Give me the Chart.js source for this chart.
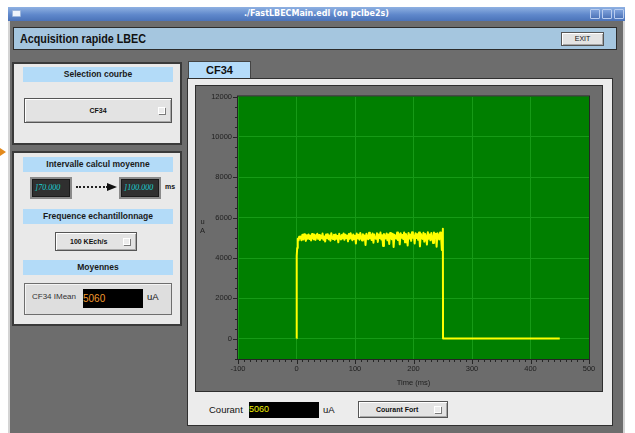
<!DOCTYPE html>
<html>
<head>
<meta charset="utf-8">
<title>FastLBECMain</title>
<script src="https://cdn.jsdelivr.net/npm/chart.js@4/dist/chart.umd.min.js"></script>
<style>
  body { margin: 0; width: 635px; height: 433px; background: #fff; position: relative; overflow: hidden;
         font-family: 'Liberation Sans', Arial, sans-serif; }
  .abs { position: absolute; box-sizing: border-box; }

  /* ── window chrome ── */
  .win { left: 8px; top: 7px; width: 617px; height: 426px; background: #6d6d6d;
         border-left: 2px solid #d4d4d4; border-right: 2px solid #d4d4d4; }
  .titlebar { left: 8px; top: 7px; width: 617px; height: 14px;
              background: linear-gradient(#8fb1e2, #5f88cb 55%, #4b73b9);
              color: #fff; font: bold 8px 'DejaVu Sans', sans-serif; text-align: center; line-height: 14px; }
  .tb-icon { top: 10px; left: 12px; width: 9px; height: 7px; background: #eef3fb; border: 1px solid #9db6dc; border-radius: 1px; }
  .tb-btn  { top: 9px; width: 10px; height: 10px; background: linear-gradient(#7fa2dc, #4d74b8); border: 1px solid #b9cdef; border-radius: 1px; }

  .header { left: 13px; top: 27px; width: 604px; height: 23px; background: #a5c6df; border: 1px solid #2c2c2c; }
  .header span { position: absolute; left: 6px; top: 4px; font: bold 12.5px 'Liberation Sans', sans-serif; color: #111;
                 transform: scaleX(0.86); transform-origin: left center; white-space: nowrap; }

  /* ── generic widgets ── */
  .panel { background: #e9e9e9; border: 2px solid #3a3a3a; }
  .lbl { left: 23px; width: 150px; height: 15px; background: #b3dbf8; text-align: center;
         font: bold 8.5px 'Liberation Sans', sans-serif; line-height: 15px; color: #1a1a1a; }
  .btn { background: #e3e3e3; border: 1px solid #555; box-shadow: inset 1px 1px 0 #fff, inset -1px -1px 0 #a8a8a8;
         text-align: center; font: bold 7px 'Liberation Sans', sans-serif; color: #111; }
  .btn i { position: absolute; right: 6px; top: 50%; margin-top: -4px; width: 7px; height: 7px;
           background: #ececec; border: 1px solid #fff; box-shadow: 1px 1px 0 #7a7a7a; box-sizing: border-box; }
  .entry { width: 42px; height: 22px; background: #2f2f2f; border: 2px solid #8a8a8a;
           box-shadow: inset 0 0 0 1px #1a1a1a; color: #19d3d3; font: italic 8px 'Liberation Serif', serif;
           line-height: 18px; padding-left: 3px; white-space: nowrap; }
  .entry b { font-weight: normal; color: #19d3d3; }
  .field { background: #000; font: 9px 'Liberation Sans', sans-serif; }

  .tab { left: 188px; top: 61px; width: 63px; height: 18px; background: #b5dcfa; border: 1px solid #444; border-bottom: none;
         text-align: center; font: bold 11px 'Liberation Sans', sans-serif; line-height: 17px; color: #111; }
  .bigpanel { left: 187px; top: 78px; width: 426px; height: 348px; background: #ececec; border: 1px solid #303030; }
  .frame { left: 196px; top: 86px; width: 406px; height: 305px; background: #6c6c6c; box-shadow: 0 0 0 1px #2e2e2e; }
  .frame canvas { display: block; }
  .txt { font: 9px 'Liberation Sans', sans-serif; color: #111; white-space: nowrap; }
</style>
</head>
<body>

<!-- window frame and title bar -->
<div class="abs win"></div>
<div class="abs titlebar">./FastLBECMain.edl (on pclbe2s)</div>
<div class="abs tb-icon"></div>
<div class="abs tb-btn" style="left:590px"></div>
<div class="abs tb-btn" style="left:602px"></div>
<div class="abs tb-btn" style="left:614px"></div>

<!-- small orange pointer at the left screen edge -->
<div class="abs" style="left:0;top:148px;width:0;height:0;border-top:4px solid transparent;border-bottom:4px solid transparent;border-left:6px solid #e38a1c"></div>

<div class="abs header"><span>Acquisition rapide LBEC</span></div>
<div class="abs btn" style="left:561px;top:32px;width:43px;height:14px;line-height:12px;font-weight:normal;font-size:7px">EXIT</div>

<!-- curve selection -->
<div class="abs panel" style="left:12px;top:62px;width:170px;height:83px"></div>
<div class="abs lbl" style="top:67px">Selection courbe</div>
<div class="abs btn" style="left:24px;top:98px;width:148px;height:25px;line-height:23px">CF34<i></i></div>

<!-- averaging interval / sampling / means -->
<div class="abs panel" style="left:12px;top:151px;width:170px;height:175px"></div>
<div class="abs lbl" style="top:157px">Intervalle calcul moyenne</div>
<div class="abs entry" style="left:30px;top:177px"><b>]</b>70.000</div>
<div class="abs" style="left:76px;top:186px;width:32px;height:0;border-top:2px dotted #222"></div>
<div class="abs" style="left:107px;top:183px;width:0;height:0;border-top:4px solid transparent;border-bottom:4px solid transparent;border-left:10px solid #111"></div>
<div class="abs entry" style="left:119px;top:177px"><b>]</b>100.000</div>
<div class="abs txt" style="left:165px;top:183px;font:bold 7px 'Liberation Sans',sans-serif">ms</div>

<div class="abs lbl" style="top:209px">Frequence echantillonnage</div>
<div class="abs btn" style="left:55px;top:232px;width:82px;height:19px;line-height:17px;text-align:left;padding-left:14px">100 KEch/s<i></i></div>

<div class="abs lbl" style="top:260px">Moyennes</div>
<div class="abs" style="left:24px;top:283px;width:148px;height:32px;background:#dedede;border:1px solid #6e6e6e;box-shadow:inset 1px 1px 0 #f4f4f4"></div>
<div class="abs txt" style="left:32px;top:292px;font-size:8px;color:#333">CF34 IMean</div>
<div class="abs field" style="left:83px;top:289px;width:60px;height:19px;color:#f29a2e;font-size:10px;line-height:19px">5060</div>
<div class="abs txt" style="left:147px;top:291px;font-size:9.5px">uA</div>

<!-- plot panel -->
<div class="abs tab">CF34</div>
<div class="abs bigpanel"></div>
<div class="abs frame"><canvas id="scopeChart" width="406" height="305"></canvas></div>
<div class="abs txt" style="left:200px;top:217px;font-size:7.5px;line-height:9px;color:#1e1e1e;text-align:center">u<br>A</div>

<div class="abs txt" style="left:209px;top:404px;font-size:9.5px">Courant</div>
<div class="abs field" style="left:249px;top:402px;width:70px;height:16px;color:#f0f000;line-height:15px">5060</div>
<div class="abs txt" style="left:323px;top:404px;font-size:9.5px">uA</div>
<div class="abs btn" style="left:358px;top:401px;width:90px;height:17px;line-height:15px;text-align:left;padding-left:17px">Courant Fort<i></i></div>

<script>
// ── DATA ───────────────────────────────────────────────
// Rising edge of the pulse (time in ms, current in uA)
const riseTime    = [0, 0, 0.4, 0.7, 1.2, 1.8, 2.5, 3.5, 4.5, 5.5];
const riseCurrent = [30, 1600, 1400, 4100, 4500, 4800, 4950, 4870, 5050, 4980];

// Flat top of the pulse, one sample every plateauStep ms from plateauStart
const plateauStart = 7;
const plateauStep  = 1.5;
const plateauCurrent = [
  5060, 4880, 5150, 4920, 5180, 4990, 4850, 5130, 4960, 5170,
  4940, 5110, 4870, 5190, 5020, 4930, 5160, 4900, 5080, 5200,
  4950, 5140, 4890, 5100, 4980, 5210, 4910, 5070, 4820, 5160,
  4990, 5180, 4930, 5120, 4860, 5230, 5000, 4940, 5150, 4900,
  5170, 4960, 5090, 4780, 5200, 5010, 4920, 5140, 4970, 5220,
  4900, 5160, 4990, 5110, 4830, 5190, 4950, 5230, 5020, 4880,
  5170, 4940, 5100, 4720, 5210, 4980, 5150, 4910, 5240, 5030,
  4870, 5180, 4960, 5120, 4650, 5200, 5000, 4930, 5250, 4980,
  5140, 4890, 5210, 4760, 5170, 5020, 4950, 5230, 4800, 5160,
  4990, 5260, 4920, 5130, 4600, 5190, 5040, 4970, 5220, 4880,
  5170, 4700, 5240, 5010, 4930, 5200, 4550, 5150, 5050, 4960,
  5260, 4890, 5180, 4680, 5230, 5000, 5140, 4940, 5270, 4780,
  5190, 5030, 4620, 5240, 4970, 5160, 4850, 5280, 5010, 5120,
  4720, 5230, 4990, 5180, 4900, 5270, 4580, 5200, 5060, 4950,
  5250, 4810, 5190, 5020, 4670, 5280, 4960, 5170, 4880, 5240,
  5040, 4740, 5260, 4990, 5200, 4560, 5230, 5080, 4920, 5270
];

// Falling edge and the baseline afterwards
const fallTime    = [247, 248.5, 249.5, 250.2, 250.5, 450];
const fallCurrent = [5150, 4400, 5200, 5450, 20, 20];

// Axis ranges and tick labels
const xMin = -100, xMax = 500, xMinorStep = 10;
const yMin = -1000, yMax = 12000, yMinorStep = 500, yMajorStep = 2000;
const xTickValues = [-100, 0, 100, 200, 300, 400, 500];
const yTickValues = [0, 2000, 4000, 6000, 8000, 10000, 12000];


// ── BUILD POINTS ───────────────────────────────────────
function buildTrace() {
  const pts = [];
  riseTime.forEach((t, i) => pts.push({ x: t, y: riseCurrent[i] }));
  plateauCurrent.forEach((c, i) => pts.push({ x: plateauStart + i * plateauStep, y: c }));
  fallTime.forEach((t, i) => pts.push({ x: t, y: fallCurrent[i] }));
  return pts;
}


// ── PLOT AREA: green fill, border and tick marks ───────
const scopeFrame = {
  id: 'scopeFrame',
  beforeDraw(chart) {
    const { ctx, chartArea: a } = chart;
    ctx.save();
    ctx.fillStyle = '#007f00';
    ctx.fillRect(a.left, a.top, a.right - a.left, a.bottom - a.top);
    ctx.restore();
  },
  afterDraw(chart) {
    const { ctx, chartArea: a, scales: { x, y } } = chart;
    ctx.save();
    ctx.strokeStyle = '#252525';
    ctx.lineWidth = 1;
    ctx.strokeRect(a.left - 0.5, a.top - 0.5, a.right - a.left + 1, a.bottom - a.top + 1);

    // major ticks are longer than the minor ones
    ctx.beginPath();
    for (let v = yMin; v <= yMax; v += yMinorStep) {
      const py = Math.round(y.getPixelForValue(v)) + 0.5;
      const len = v % yMajorStep === 0 ? 5 : 3;
      ctx.moveTo(a.left - len, py);
      ctx.lineTo(a.left, py);
    }
    for (let v = xMin; v <= xMax; v += xMinorStep) {
      const px = Math.round(x.getPixelForValue(v)) + 0.5;
      const len = v % 100 === 0 ? 5 : 3;
      ctx.moveTo(px, a.bottom);
      ctx.lineTo(px, a.bottom + len);
    }
    ctx.stroke();
    ctx.restore();
  }
};


// ── CHART ──────────────────────────────────────────────
function buildScope() {
  const tickFont = { family: 'Liberation Sans', size: 7.5 };
  const ctx = document.getElementById('scopeChart').getContext('2d');

  new Chart(ctx, {
    type: 'line',
    data: {
      datasets: [{
        data: buildTrace(),
        borderColor: '#ffff00',
        borderWidth: 2,
        borderJoinStyle: 'round',
        pointRadius: 0,
        tension: 0
      }]
    },
    options: {
      responsive: false,
      animation: false,
      devicePixelRatio: 1,
      layout: { padding: { left: 0, right: 13, top: 8, bottom: 0 } },
      plugins: { legend: { display: false }, tooltip: { enabled: false } },
      scales: {
        x: {
          type: 'linear',
          min: xMin,
          max: xMax,
          afterBuildTicks: s => { s.ticks = xTickValues.map(v => ({ value: v })); },
          afterFit: s => { s.height = 32; },
          ticks: { callback: v => String(v), padding: 5, color: '#1e1e1e', font: tickFont, maxRotation: 0, autoSkip: false },
          grid: { color: '#179a17', lineWidth: 1, drawTicks: false },
          border: { display: false },
          title: { display: true, text: 'Time (ms)', color: '#1e1e1e', font: tickFont, padding: { top: 0, bottom: 4 } }
        },
        y: {
          type: 'linear',
          min: yMin,
          max: yMax,
          afterBuildTicks: s => { s.ticks = yTickValues.map(v => ({ value: v })); },
          afterFit: s => { s.width = 42; },
          ticks: { callback: v => String(v), padding: 6, color: '#1e1e1e', font: tickFont, autoSkip: false },
          grid: { color: '#179a17', lineWidth: 1, drawTicks: false },
          border: { display: false }
        }
      }
    },
    plugins: [scopeFrame]
  });
}

window.onload = buildScope;
</script>
</body>
</html>
